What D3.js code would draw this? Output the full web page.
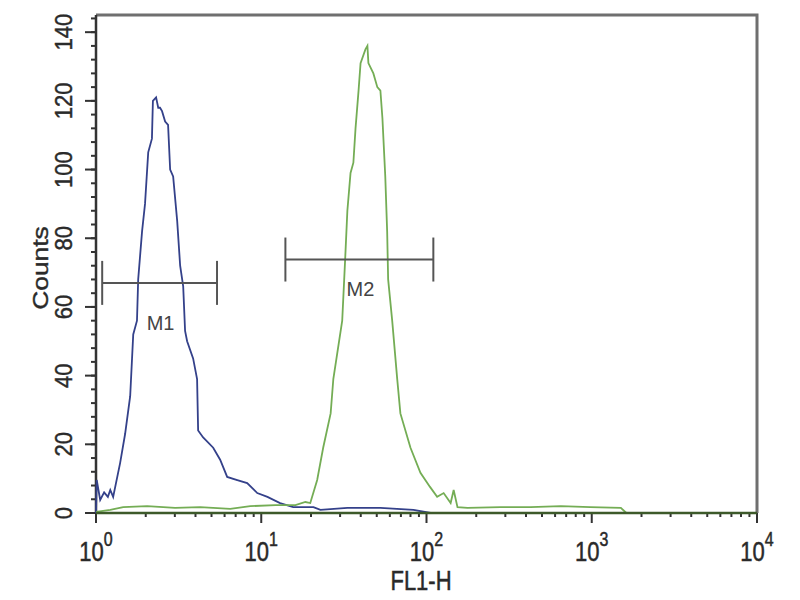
<!DOCTYPE html>
<html><head><meta charset="utf-8">
<script src="https://cdn.jsdelivr.net/npm/d3@7"></script>
<style>body{margin:0;background:#fff}svg{display:block}text{font-family:"Liberation Sans",Arial,sans-serif}</style>
</head><body>
<svg id="c" width="800" height="600"></svg>
<script>
// Data (FL1-H channel value, counts)
const blueFL = [1.00,1.01,1.06,1.12,1.18,1.22,1.27,1.40,1.50,1.61,1.68,1.77,1.80,1.90,1.98,2.07,2.18,2.21,2.31,2.38,2.44,2.51,2.62,2.73,2.81,2.93,3.10,3.23,3.37,3.46,3.56,3.87,4.09,4.15,4.45,5.12,5.64,6.22,7.16,8.22,9.46,10.9,13.0,15.6,20.7,22.8,33.2,52.6,83.4,106];
const blueCounts = [0,9.6,3.8,6,4.7,6.7,4.7,14.6,23,34,52,56,68,82,90,105,109,120,121,118,118,117,114,113,100,98,85,72,66,53,50,45,39,24,22,19,15.5,10.5,9.6,8.7,5.8,4.7,2.9,1.7,1.7,0.9,1.5,1.5,0.9,0];
const greenFL = [1.00,1.22,1.46,2.04,3.01,4.27,6.49,8.58,12.2,16.1,18.5,19.8,21.8,23.7,26.3,27.3,30.9,32.2,33.2,34.7,36.1,37.2,38.8,39.9,42.7,43.9,44.5,47.7,50.4,52.6,54.1,56.3,57.8,58.6,62.0,66.5,69.5,80.0,91.9,105,116,127,140,146,154,177,281,426,650,980,1500,1620,10000];
const greenCounts = [0.3,0.9,1.7,2,1.5,1.7,1.2,2,2.3,2.3,3.2,2.9,9.6,19,29,39,56,74,88,99,102,112,123,131,135,136,131,128,124,123,115,98,82,68,56,39,29,19,11.7,7.6,4.7,5.8,2.9,6.7,1.7,1.5,1.7,1.7,2,1.7,1.5,0,0];
const yTicks = [0,20,40,60,80,100,120,140];
const xTickExps = [0,1,2,3,4];
const markerLabels = ["M1","M2"];
const markerFrom = [1.09,14];
const markerTo = [5.4,110];
const markerLevel = [67,73.8];
const xTitle = "FL1-H", yTitle = "Counts";

const svg = d3.select("#c");
const L=96,R=757,T=15,B=513;
const x = d3.scaleLog().domain([1,1e4]).range([L,R]);
const y = d3.scaleLinear().domain([0,145]).range([B,T]);
const ink = "#2a2a2a";

// frame top/right
svg.append("path").attr("d",`M${L},${T}H${R}V${B}`).attr("fill","none").attr("stroke","#6f6f6f").attr("stroke-width",3);

// y axis
const yMinor = d3.range(0,145,4);
const ya = svg.append("g");
ya.selectAll("line.mn").data(yMinor).join("line")
  .attr("x1",L-5).attr("x2",L).attr("y1",d=>y(d)).attr("y2",d=>y(d)).attr("stroke","#333").attr("stroke-width",2);
ya.selectAll("line.mj").data(yTicks).join("line")
  .attr("x1",L-11).attr("x2",L).attr("y1",d=>y(d)).attr("y2",d=>y(d)).attr("stroke","#333").attr("stroke-width",2);
ya.append("line").attr("x1",L).attr("x2",L).attr("y1",T).attr("y2",B+1).attr("stroke","#333").attr("stroke-width",2.5);
ya.selectAll("text").data(yTicks).join("text")
  .attr("transform",d=>`translate(72,${y(d)}) rotate(-90) scale(1.05,1.1)`)
  .attr("text-anchor","middle").attr("font-size",21).attr("fill",ink).attr("stroke",ink).attr("stroke-width",0.4).text(d=>d);
svg.append("text").attr("transform","translate(48,268) rotate(-90) scale(1.2,1)").attr("text-anchor","middle")
  .attr("font-size",22).attr("fill",ink).attr("stroke",ink).attr("stroke-width",0.4).text(yTitle);

// x axis
const xMinor = [];
for(let e=0;e<4;e++) for(let k=2;k<10;k++) xMinor.push(k*Math.pow(10,e));
const xa = svg.append("g");
xa.selectAll("line.mn").data(xMinor).join("line")
  .attr("x1",d=>x(d)).attr("x2",d=>x(d)).attr("y1",B).attr("y2",B+4).attr("stroke","#333").attr("stroke-width",2);
xa.selectAll("line.mj").data(xTickExps).join("line")
  .attr("x1",d=>x(Math.pow(10,d))).attr("x2",d=>x(Math.pow(10,d))).attr("y1",B).attr("y2",B+10).attr("stroke","#333").attr("stroke-width",2);
const xl = xa.selectAll("text.tl").data(xTickExps).join("text")
  .attr("transform",d=>`translate(${x(Math.pow(10,d))},561) scale(1,1.22)`)
  .attr("text-anchor","middle").attr("font-size",22).attr("fill",ink).attr("stroke",ink).attr("stroke-width",0.4);
xl.append("tspan").text("10");
xl.append("tspan").attr("dy",-12).attr("font-size",16).text(d=>d);
svg.append("text").attr("transform","translate(421,590) scale(1,1.22)").attr("text-anchor","middle")
  .attr("font-size",22).attr("fill",ink).attr("stroke",ink).attr("stroke-width",0.4).text(xTitle);

// curves
const line = d3.line().x(d=>x(d[0])).y(d=>y(d[1]));
svg.append("path").datum(blueFL.map((v,i)=>[v,blueCounts[i]])).attr("d",line)
  .attr("fill","none").attr("stroke","#34418a").attr("stroke-width",1.8);
svg.append("path").datum(greenFL.map((v,i)=>[v,greenCounts[i]])).attr("d",line)
  .attr("fill","none").attr("stroke","#74ad55").attr("stroke-width",1.8);
// bottom axis line
svg.append("line").attr("x1",L).attr("x2",R).attr("y1",B).attr("y2",B).attr("stroke","#3d5a2a").attr("stroke-width",2.5);

// markers
const labelDrop = [47,36];
const mg = svg.selectAll("g.m").data(markerLabels).join("g");
mg.append("line").attr("x1",(d,i)=>x(markerFrom[i])).attr("x2",(d,i)=>x(markerTo[i])).attr("y1",(d,i)=>y(markerLevel[i])).attr("y2",(d,i)=>y(markerLevel[i])).attr("stroke","#555").attr("stroke-width",2);
mg.append("line").attr("x1",(d,i)=>x(markerFrom[i])).attr("x2",(d,i)=>x(markerFrom[i])).attr("y1",(d,i)=>y(markerLevel[i])-22).attr("y2",(d,i)=>y(markerLevel[i])+22).attr("stroke","#555").attr("stroke-width",2);
mg.append("line").attr("x1",(d,i)=>x(markerTo[i])).attr("x2",(d,i)=>x(markerTo[i])).attr("y1",(d,i)=>y(markerLevel[i])-22).attr("y2",(d,i)=>y(markerLevel[i])+22).attr("stroke","#555").attr("stroke-width",2);
mg.append("text").attr("x",(d,i)=>(x(markerFrom[i])+x(markerTo[i]))/2+1).attr("y",(d,i)=>y(markerLevel[i])+labelDrop[i]).attr("text-anchor","middle")
  .attr("font-size",20).attr("fill","#444").text(d=>d);
</script>
</body></html>
